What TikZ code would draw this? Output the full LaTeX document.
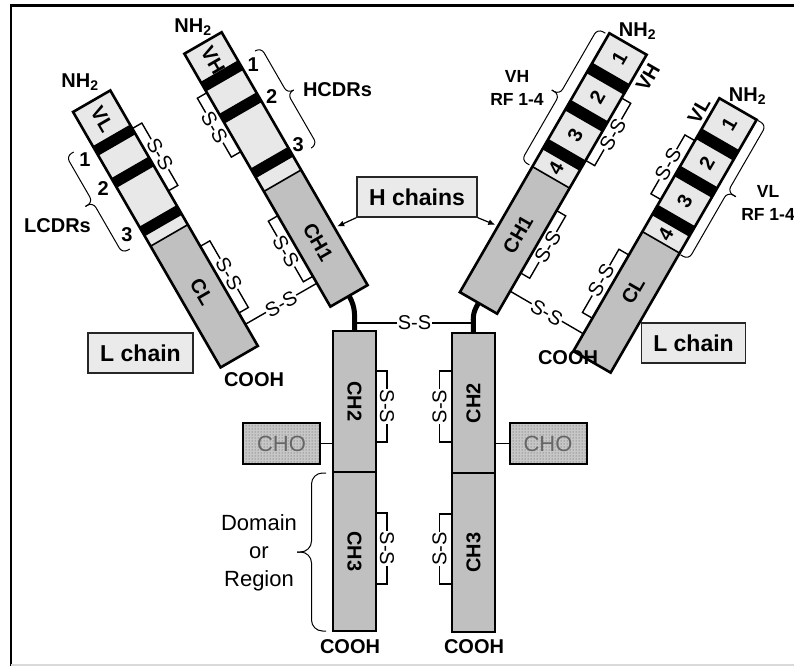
\documentclass[tikz,border=0pt]{standalone}
\usepackage{fontspec}
\setmainfont{Liberation Sans}
\usetikzlibrary{patterns,arrows.meta}
\definecolor{vgray}{HTML}{E8E8E8}
\definecolor{cgray}{HTML}{C0C0C0}
\definecolor{boxgray}{HTML}{EAEAEA}
% curly brace in local (t,s) coordinates: [radius] t1, t2, s0, h, tip-t
\newcommand\cbrace[6][6pt]{%
  \draw[bracel, rounded corners=#1] (#2,#4) -- (#2,{#4+#5}) -- (#6,{#4+#5}) -- (#6,{#4+2*#5});
  \draw[bracel, rounded corners=#1] (#3,#4) -- (#3,{#4+#5}) -- (#6,{#4+#5}) -- (#6,{#4+2*#5});}
\begin{document}
\begin{tikzpicture}[x=1pt,y=1pt,
  chain/.style={draw=black, line width=2.6pt},
  bl/.style={font=\fontsize{20}{22}\selectfont\bfseries, inner sep=0pt},
  ss/.style={font=\fontsize{20}{22}\selectfont, fill=white, inner sep=0.6pt},
  brk/.style={line width=1.4pt},
  bracel/.style={line width=1pt},
  hinge/.style={line width=5pt},
  lbox/.style={draw=black!85, line width=1.3pt, fill=boxgray, font=\fontsize{23}{25}\selectfont\bfseries, minimum height=40pt, inner sep=0pt},
  fcbox/.style={draw=black, line width=2.6pt, fill=cgray, minimum width=43pt, inner sep=0pt},
  cho/.style={draw=black, line width=2pt, preaction={fill=black!22}, pattern=dots, pattern color=black!70, minimum width=77pt, minimum height=41pt, inner sep=0pt, font=\fontsize{22}{24}\selectfont, text=black!60},
  rf/.style={font=\fontsize{17.5}{23}\selectfont\bfseries, align=center, inner sep=0pt},
  arr/.style={line width=1.2pt, -{Latex[length=7pt,width=6pt]}}
]
\useasboundingbox (0,0) rectangle (794,-666);
\fill[white] (0,0) rectangle (794,-666);
\draw[line width=2.2pt] (11,-666) -- (11,-5.5) -- (794,-5.5);
\draw[black!15, line width=1.5pt] (11,-665.2) -- (794,-665.2);

% ---------- left L chain ----------
\begin{scope}[shift={(91.7,-101.2)}, rotate=-60]
  \draw[brk] (44,21.5) -- (44,32.5) -- (116,32.5) -- (116,21.5);
  \draw[brk] (180,21.5) -- (180,32.5) -- (257,32.5) -- (257,21.5);
  \fill[vgray] (0,-21.5) rectangle (155,21.5);
  \fill[cgray] (155,-21.5) rectangle (295,21.5);
  \foreach \b in {45,82,138} \fill[black] (\b-5.5,-21.5) rectangle (\b+5.5,21.5);
  \draw[line width=1.6pt] (155,-21.5) -- (155,21.5);
  \draw[chain] (0,-21.5) rectangle (295,21.5);
  \node[bl, rotate=-60] (lLv) at (21,0) {VL};
  \node[bl, rotate=-60] (lLc) at (220,0) {CL};
  \node[ss, rotate=-60] (lLs1) at (80,32.5) {S-S};
  \node[ss, rotate=-60] (lLs2) at (218,32.5) {S-S};
  \node[bl] (lL1) at (47,-35) {1};
  \node[bl] (lL2) at (81,-33.5) {2};
  \node[bl] (lL3) at (133,-36) {3};
  \cbrace{147}{35}{-41}{-8.5}{88}
  \coordinate (lLss) at (270,21.5);
\end{scope}

% ---------- left H chain ----------
\begin{scope}[shift={(203,-43)}, rotate=-60]
  \draw[brk] (45,-21.5) -- (45,-32.5) -- (113,-32.5) -- (113,-21.5);
  \draw[brk] (187,-21.5) -- (187,-32.5) -- (257,-32.5) -- (257,-21.5);
  \fill[vgray] (0,-21.5) rectangle (159,21.5);
  \fill[cgray] (159,-21.5) rectangle (292,21.5);
  \foreach \b in {38,75,138} \fill[black] (\b-5.5,-21.5) rectangle (\b+5.5,21.5);
  \draw[line width=1.6pt] (159,-21.5) -- (159,21.5);
  \draw[chain] (0,-21.5) rectangle (292,21.5);
  \node[bl, rotate=-60] (lHv) at (20,0) {VH};
  \node[bl, rotate=-60] (lHc) at (230,0) {CH1};
  \node[ss, rotate=-60] (lHs1) at (79,-32.5) {S-S};
  \node[ss, rotate=-60] (lHs2) at (222,-32.5) {S-S};
  \node[bl] (lH1) at (44,32.5) {1};
  \node[bl] (lH2) at (81,32.5) {2};
  \node[bl] (lH3) at (136,31.5) {3};
  \cbrace{33}{145}{41}{7}{86}
  \coordinate (lHss) at (265,-21.5);
  \coordinate (lHB) at (292,0);
  \coordinate (lHar) at (226,24.5);
\end{scope}

% ---------- right H chain ----------
\begin{scope}[shift={(628,-44)}, rotate=-120]
  \draw[brk] (50,21.5) -- (50,32) -- (122,32) -- (122,21.5);
  \draw[brk] (180,21.5) -- (180,32) -- (252,32) -- (252,21.5);
  \fill[vgray] (0,-21.5) rectangle (154,21.5);
  \fill[cgray] (154,-21.5) rectangle (299,21.5);
  \foreach \b in {40,83,128} \fill[black] (\b-6,-21.5) rectangle (\b+6,21.5);
  \draw[line width=1.6pt] (154,-21.5) -- (154,21.5);
  \draw[chain] (0,-21.5) rectangle (299,21.5);
  \node[bl, rotate=60] (rH1) at (17,0) {1};
  \node[bl, rotate=60] (rH2) at (61.5,0) {2};
  \node[bl, rotate=60] (rH3) at (105.5,0) {3};
  \node[bl, rotate=60] (rH4) at (144,0) {4};
  \node[bl, rotate=60] (rHc) at (220,0) {CH1};
  \node[bl, rotate=60] (rHv) at (19,34) {VH};
  \node[ss, rotate=60] (rHs1) at (86,32) {S-S};
  \node[ss, rotate=60] (rHs2) at (216,32) {S-S};
  \cbrace{154}{2}{-25}{-9}{78}
  \coordinate (rHss) at (273,21.5);
  \coordinate (rHB) at (299,0);
  \coordinate (rHar) at (223,-24.5);
\end{scope}

% ---------- right L chain ----------
\begin{scope}[shift={(738,-109)}, rotate=-120]
  \draw[brk] (49,-21.5) -- (49,-33) -- (117,-33) -- (117,-21.5);
  \draw[brk] (181,-21.5) -- (181,-33) -- (254,-33) -- (254,-21.5);
  \fill[vgray] (0,-21.5) rectangle (154,21.5);
  \fill[cgray] (154,-21.5) rectangle (292,21.5);
  \foreach \b in {41,84,129} \fill[black] (\b-6,-21.5) rectangle (\b+6,21.5);
  \draw[line width=1.6pt] (154,-21.5) -- (154,21.5);
  \draw[chain] (0,-21.5) rectangle (292,21.5);
  \node[bl, rotate=60] (rL1) at (17.5,0) {1};
  \node[bl, rotate=60] (rL2) at (62.5,0) {2};
  \node[bl, rotate=60] (rL3) at (106.5,0) {3};
  \node[bl, rotate=60] (rL4) at (144.5,0) {4};
  \node[bl, rotate=60] (rLc) at (210,0) {CL};
  \node[bl, rotate=60] (rLv) at (21,-33) {VL};
  \node[ss, rotate=60] (rLs1) at (83,-33) {S-S};
  \node[ss, rotate=60] (rLs2) at (217,-33) {S-S};
  \cbrace{0}{155}{23}{9.5}{77}
  \coordinate (rLss) at (272,-21.5);
\end{scope}

% inter-chain disulfides
\draw[brk] (lLss) -- node[ss, rotate=30] (ssl) {S-S} (lHss);
\draw[brk] (rHss) -- node[ss, rotate=-30] (ssr) {S-S} (rLss);

% hinge
\coordinate (lFt) at (354.5,-331);
\coordinate (rFt) at (473.5,-333);
\coordinate (hl) at (356,-323);
\coordinate (hr) at (473,-323);
\draw[brk] (hl) -- node[ss] (ssc) {S-S} (hr);
\draw[hinge] (lHB) .. controls +(-60:14) and +(0,16) .. (lFt);
\draw[hinge] (rHB) .. controls +(-120:14) and +(0,16) .. (rFt);

% Fc
\draw[brk] (376,-371) -- (387,-371) -- (387,-442) -- (376,-442);
\draw[brk] (376,-513) -- (387,-513) -- (387,-584) -- (376,-584);
\draw[brk] (452,-371) -- (439.5,-371) -- (439.5,-442) -- (452,-442);
\draw[brk] (452,-514) -- (439.5,-514) -- (439.5,-584) -- (452,-584);
\node[fcbox, minimum height=141pt] (lch2) at (354.5,-401.5) {};
\node[fcbox, minimum height=159pt] (lch3) at (354.5,-551.5) {};
\node[fcbox, minimum height=140pt] (rch2) at (473.5,-403) {};
\node[fcbox, minimum height=159pt] (rch3) at (473.5,-552.5) {};
\node[bl, rotate=-90] at (lch2) {CH2};
\node[bl, rotate=-90] at (lch3) {CH3};
\node[bl, rotate=90] at (rch2) {CH2};
\node[bl, rotate=90] at (rch3) {CH3};
\node[ss, rotate=-90] (fs1) at (387,-406.5) {S-S};
\node[ss, rotate=-90] (fs2) at (387,-548.5) {S-S};
\node[ss, rotate=90] (fs3) at (439.5,-406.5) {S-S};
\node[ss, rotate=90] (fs4) at (439.5,-549) {S-S};

% CHO
\node[cho] (lcho) at (281.5,-443.5) {CHO};
\node[cho] (rcho) at (548,-443.5) {CHO};
\draw[brk] (lcho.east) -- (lcho.east -| lch2.west);
\draw[brk] (rcho.west) -- (rcho.west -| rch2.east);

% Domain brace
\begin{scope}[shift={(326,-473)}, rotate=-90]
  \cbrace[11pt]{0}{158}{0}{-14.5}{79}
\end{scope}
\node[font=\fontsize{22}{28}\selectfont, align=center] (dom) at (259,-553) {Domain\\or\\Region};

% terminal labels
\node[bl] (nh1) at (80,-82) {NH\textsubscript{2}};
\node[bl] (nh2) at (193,-27) {NH\textsubscript{2}};
\node[bl] (nh3) at (637.5,-31) {NH\textsubscript{2}};
\node[bl] (nh4) at (747.5,-96) {NH\textsubscript{2}};
\node[bl] (co1) at (254,-380) {COOH};
\node[bl] (co2) at (350,-647) {COOH};
\node[bl] (co3) at (474,-647) {COOH};
\node[bl] (co4) at (568,-358) {COOH};

% CDR / RF labels
\node[bl] (hcdr) at (337.5,-90) {HCDRs};
\node[bl] (lcdr) at (57.5,-226) {LCDRs};
\node[rf] (vhrf) at (517,-88) {VH\\RF 1-4};
\node[rf] (vlrf) at (768,-203) {VL\\RF 1-4};

% boxes
\node[lbox, minimum width=120pt] (hch) at (417,-197) {H chains};
\node[lbox, minimum width=105pt] (lch) at (140.5,-353) {L chain};
\node[lbox, minimum width=104pt] (rch) at (693.5,-343) {L chain};
\draw[arr] (hch.south west) -- (lHar);
\draw[arr] (hch.south east) -- (rHar);
\end{tikzpicture}
\end{document}
